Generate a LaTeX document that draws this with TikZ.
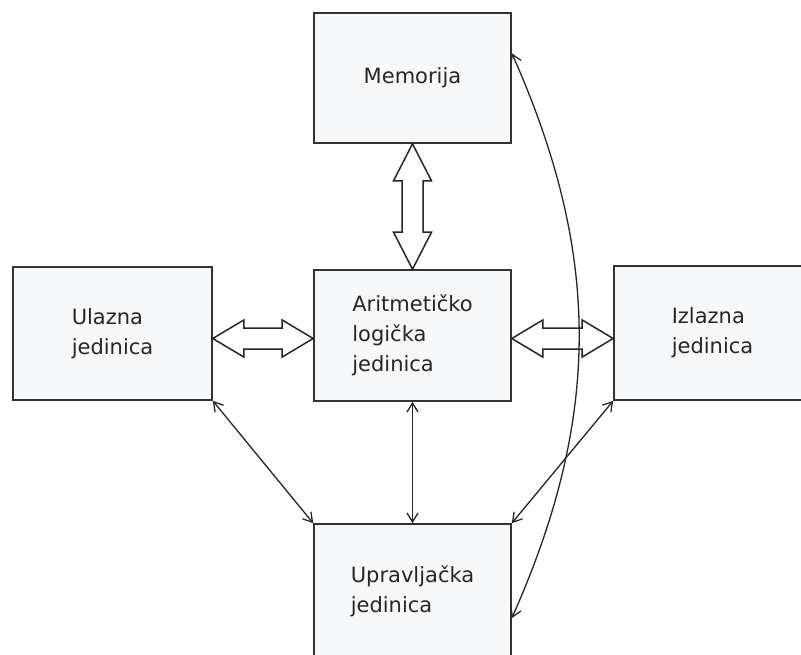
\documentclass[tikz,border=0pt]{standalone}
\usepackage{fontspec}
\setmainfont{DejaVu Sans}
\usetikzlibrary{arrows.meta,calc}

\definecolor{boxfill}{HTML}{F7F8FA}
\definecolor{boxline}{HTML}{333333}

\tikzset{
  unit/.style={draw=boxline, line width=1.6pt, fill=boxfill,
    minimum width=197pt, minimum height=131pt, align=left,
    font=\fontsize{21}{30}\selectfont, text=black!85},
  fat/.style={draw=black!85, line width=1.5pt, fill=white, line join=miter},
  link/.style={{Straight Barb[length=9pt,width=11pt]}-{Straight Barb[length=9pt,width=11pt]},
    draw=black!85, line width=1.3pt},
}

% hollow double arrow between two anchors
\newcommand{\fatarrow}[4]{% from, to, head length, head half width
  \draw[fat] (#1)
    -- ($(#1)!#3!(#2)!#4!90:(#2)$)
    -- ($(#1)!#3!(#2)!10.5pt!90:(#2)$)
    -- ($(#2)!#3!(#1)!10.5pt!-90:(#1)$)
    -- ($(#2)!#3!(#1)!#4!-90:(#1)$)
    -- (#2)
    -- ($(#2)!#3!(#1)!#4!90:(#1)$)
    -- ($(#2)!#3!(#1)!10.5pt!90:(#1)$)
    -- ($(#1)!#3!(#2)!10.5pt!-90:(#2)$)
    -- ($(#1)!#3!(#2)!#4!-90:(#2)$)
    -- cycle;}

\begin{document}
\begin{tikzpicture}[x=1pt, y=-1pt]
  \clip (0,0) rectangle (801,655);
  \fill[white] (0,0) rectangle (801,655);

  \node[unit, minimum height=130pt] (mem) at (412.5, 78) {Memorija};
  \node[unit] (alu) at (412.5, 335.5) {Aritmetičko\\logička\\jedinica};
  \node[unit, minimum width=199pt, minimum height=133pt] (ulz) at (112.5, 333.5) {Ulazna\\jedinica};
  \node[unit, minimum height=134pt] (izl) at (712.5, 333) {Izlazna\\jedinica};
  \node[unit, minimum height=135pt] (upr) at (412.5, 591.5) {Upravljačka\\jedinica};

  % data paths
  \coordinate (lin) at ([yshift=-3pt]alu.west);
  \coordinate (rin) at ([yshift=-3pt]alu.east);
  \fatarrow{mem.south}{alu.north}{37pt}{19pt}
  \fatarrow{ulz.east |- lin}{lin}{31pt}{18.5pt}
  \fatarrow{rin}{izl.west |- rin}{31pt}{18.5pt}

  % control paths
  \draw[link] (ulz.south east) -- (upr.north west);
  \draw[link] (izl.south west) -- (upr.north east);
  \draw[link] (alu.south) -- (upr.north);
  \draw[link] (mem.14) to[out=-66, in=66] (upr.-15);
\end{tikzpicture}
\end{document}
